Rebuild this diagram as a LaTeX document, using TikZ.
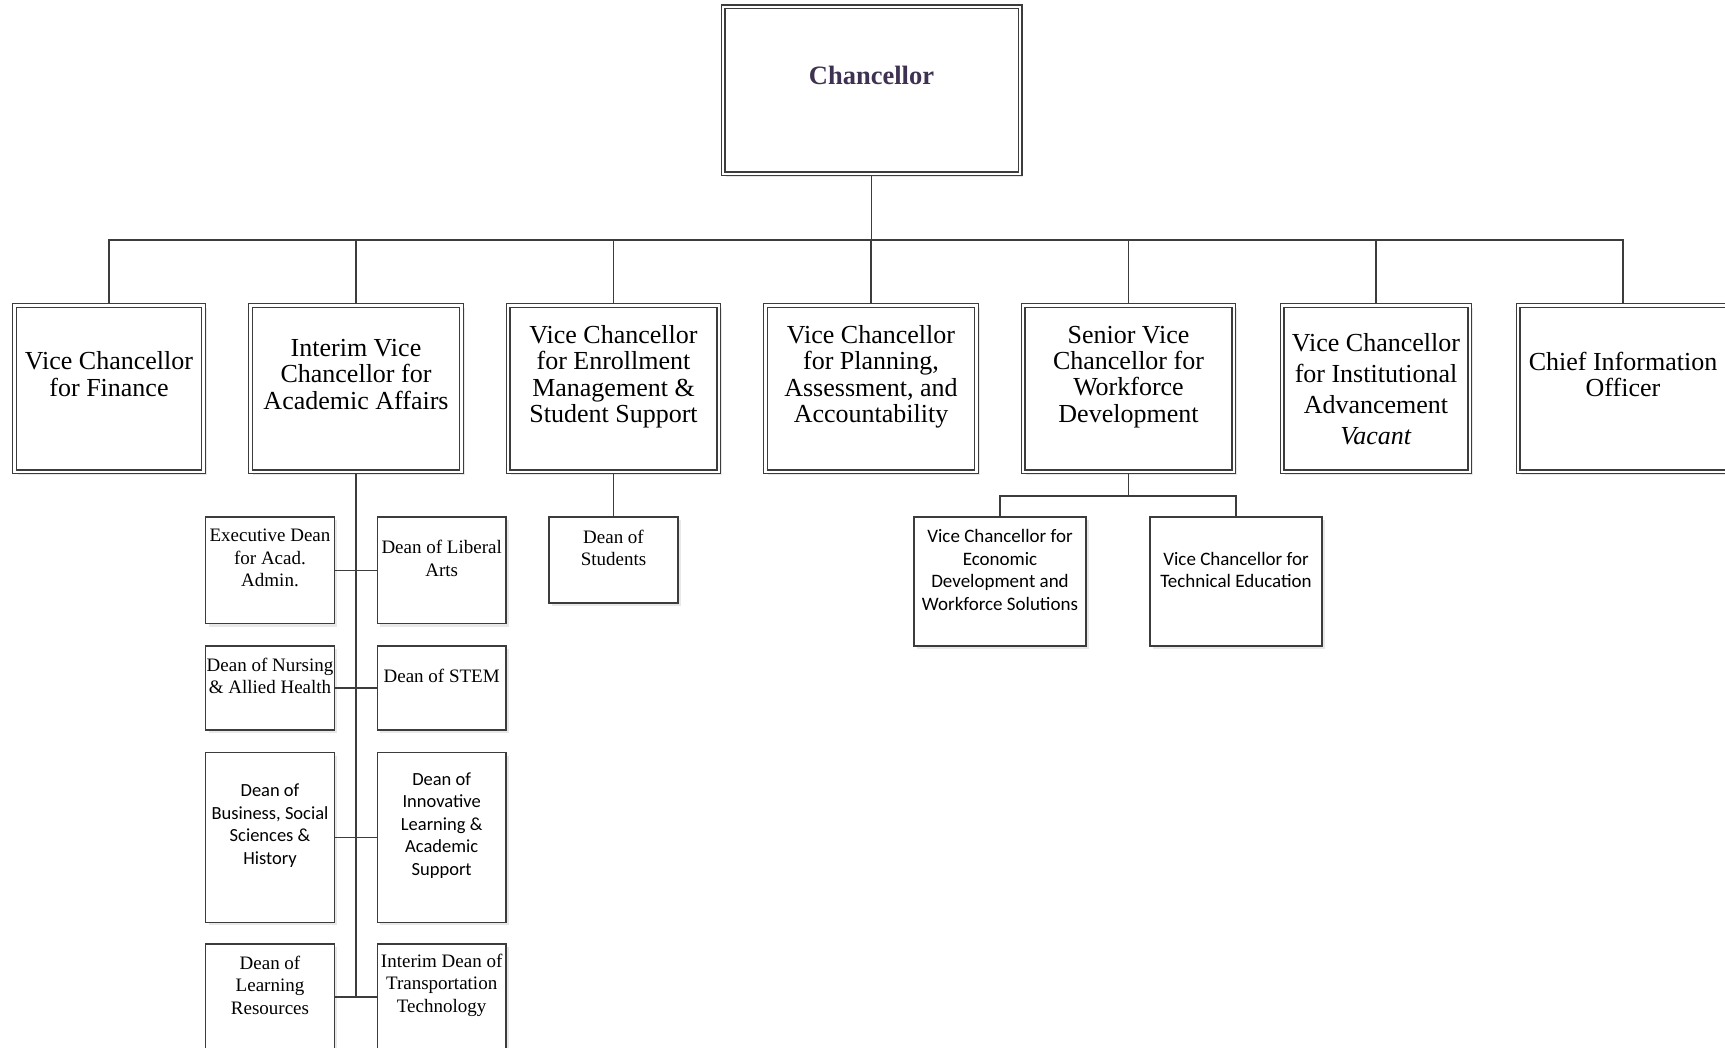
\documentclass[tikz,border=0pt]{standalone}
\usepackage{fontspec}
\setmainfont{Liberation Serif}
\newfontfamily\calibfont{Carlito}
\usetikzlibrary{shadows}
\definecolor{chancol}{HTML}{3F3151}
\definecolor{linecol}{HTML}{3C3C3C}
\tikzset{
  shad/.style={drop shadow={shadow xshift=3pt, shadow yshift=-3pt, fill=black!9, opacity=1}},
  dblbox/.style={draw=linecol, double=white, line width=1.2pt, double distance=2.6pt,
    outer sep=2.5pt, inner sep=0pt, fill=white, shad},
  sbox/.style={draw=linecol, line width=1.1pt, fill=white, inner sep=0pt, shad},
  conn/.style={draw=linecol, line width=1.1pt},
  l2txt/.style={align=center, inner sep=0pt, font=\fontsize{26}{26.3}\selectfont},
  chantxt/.style={align=center, inner sep=0pt, text=chancol, font=\bfseries\fontsize{26.5}{26.5}\selectfont},
  tmtxt/.style={align=center, inner sep=0pt, font=\fontsize{19}{22.5}\selectfont},
  cbtxt/.style={align=center, inner sep=0pt, font=\calibfont\fontsize{18.5}{22.5}\selectfont},
  cbtxtb/.style={align=center, inner sep=0pt, font=\calibfont\fontsize{19}{22.6}\selectfont},
}
\begin{document}
\begin{tikzpicture}[x=1pt,y=-1pt]
\useasboundingbox (0,0) rectangle (1725,1048);
\clip (0,0) rectangle (1725,1048);
\fill[white] (0,0) rectangle (1725,1048);

% top
\node[dblbox, minimum width=297pt, minimum height=167pt] (chan) at (871.5,90.5) {};
\node[chantxt] (chan-t) at ([yshift=15.5pt]chan.center) {Chancellor};

% level 2
\node[dblbox, minimum width=189pt, minimum height=166.5pt] (fin) at (109,388.75) {};
\node[dblbox, minimum width=211.4pt, minimum height=166.5pt] (acad) at (356,388.75) {};
\node[dblbox, minimum width=210.7pt, minimum height=166.5pt] (enr) at (613.5,388.75) {};
\node[dblbox, minimum width=211.4pt, minimum height=166.5pt] (plan) at (871,388.75) {};
\node[dblbox, minimum width=210.7pt, minimum height=166.5pt] (sen) at (1128.5,388.75) {};
\node[dblbox, minimum width=187.7pt, minimum height=166.5pt] (inst) at (1376,388.75) {};
\node[dblbox, minimum width=209.7pt, minimum height=166.5pt] (cio) at (1623,388.75) {};

\node[l2txt] (fin-t) at ([yshift=14.5pt]fin.center) {Vice Chancellor\\for Finance};
\node[l2txt] (acad-t) at ([yshift=14.5pt]acad.center) {Interim Vice\\Chancellor for\\Academic Affairs};
\node[l2txt] (enr-t) at ([yshift=12pt]enr.center) {Vice Chancellor\\for Enrollment\\Management \&\\Student Support};
\node[l2txt] (plan-t) at ([yshift=12pt]plan.center) {Vice Chancellor\\for Planning,\\Assessment, and\\Accountability};
\node[l2txt] (sen-t) at ([yshift=12pt]sen.center) {Senior Vice\\Chancellor for\\Workforce\\Development};
\node[l2txt, font=\fontsize{26}{31}\selectfont] (inst-t) at (inst.center) {Vice Chancellor\\for Institutional\\Advancement\\\textit{Vacant}};
\node[l2txt] (cio-t) at ([yshift=14.5pt]cio.center) {Chief Information\\Officer};

% academic deans
\node[sbox, minimum width=128.6pt, minimum height=106.5pt] (d1l) at (270,570.25) {};
\node[sbox, minimum width=128.6pt, minimum height=106.5pt] (d1r) at (441.65,570.25) {};
\node[sbox, minimum width=128.6pt, minimum height=84pt] (d2l) at (270,688) {};
\node[sbox, minimum width=128.6pt, minimum height=84pt] (d2r) at (441.65,688) {};
\node[sbox, minimum width=128.6pt, minimum height=169.6pt] (d3l) at (270,837.5) {};
\node[sbox, minimum width=128.6pt, minimum height=169.6pt] (d3r) at (441.65,837.5) {};
\node[sbox, minimum width=128.6pt, minimum height=106pt] (d4l) at (270,997) {};
\node[sbox, minimum width=128.6pt, minimum height=106pt] (d4r) at (441.65,997) {};

\node[tmtxt] (d1l-t) at ([yshift=12pt]d1l.center) {Executive Dean\\for Acad.\\Admin.};
\node[tmtxt] (d1r-t) at ([yshift=12pt]d1r.center) {Dean of Liberal\\Arts};
\node[tmtxt] (d2l-t) at ([yshift=12pt]d2l.center) {Dean of Nursing\\\& Allied Health};
\node[tmtxt] (d2r-t) at ([yshift=12pt]d2r.center) {Dean of STEM};
\node[cbtxt] (d3l-t) at ([yshift=12pt]d3l.center) {Dean of\\Business, Social\\Sciences \&\\History};
\node[cbtxt] (d3r-t) at ([yshift=12pt]d3r.center) {Dean of\\Innovative\\Learning \&\\Academic\\Support};
\node[tmtxt] (d4l-t) at ([yshift=12pt]d4l.center) {Dean of\\Learning\\Resources};
\node[tmtxt] (d4r-t) at ([yshift=12pt]d4r.center) {Interim Dean of\\Transportation\\Technology};

% dean of students
\node[sbox, minimum width=129pt, minimum height=86pt] (stu) at (613.5,560) {};
\node[tmtxt] (stu-t) at ([yshift=12pt]stu.center) {Dean of\\Students};

% workforce
\node[sbox, minimum width=172pt, minimum height=129pt] (eco) at (1000,581.5) {};
\node[sbox, minimum width=172pt, minimum height=129pt] (tec) at (1236,581.5) {};
\node[cbtxtb] (eco-t) at ([yshift=11.5pt]eco.center) {Vice Chancellor for\\Economic\\Development and\\Workforce Solutions};
\node[cbtxtb] (tec-t) at ([yshift=11.5pt]tec.center) {Vice Chancellor for\\Technical Education};

% connectors
\coordinate (bus) at (871.5,240);
\coordinate (senbus) at (1128.5,496);
\draw[conn] (chan.south) -- (chan.south |- bus);
\draw[conn] (fin.north) -- (fin.north |- bus) -- (cio.north |- bus) -- (cio.north);
\draw[conn] (acad.north) -- (acad.north |- bus);
\draw[conn] (enr.north) -- (enr.north |- bus);
\draw[conn] (plan.north) -- (plan.north |- bus);
\draw[conn] (sen.north) -- (sen.north |- bus);
\draw[conn] (inst.north) -- (inst.north |- bus);

\draw[conn, line width=1.6pt] (acad.south) -- (acad.south |- d4l.east);
\draw[conn] (d1l.east) -- (d1r.west);
\draw[conn] (d2l.east) -- (d2r.west);
\draw[conn] (d3l.east) -- (d3r.west);
\draw[conn] (d4l.east) -- (d4r.west);

\draw[conn] (enr.south) -- (stu.north);

\draw[conn] (sen.south) -- (sen.south |- senbus);
\draw[conn] (eco.north) -- (eco.north |- senbus) -- (tec.north |- senbus) -- (tec.north);
\end{tikzpicture}
\end{document}
